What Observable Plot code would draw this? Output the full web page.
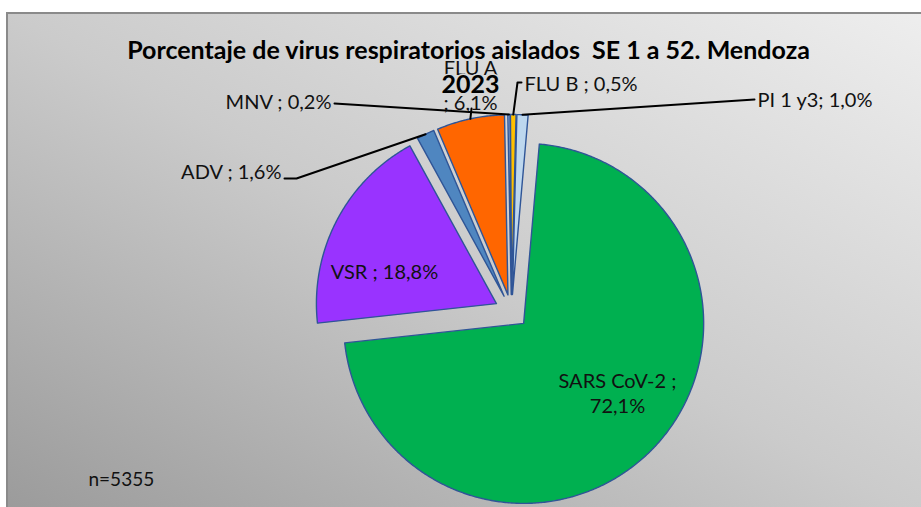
<!DOCTYPE html>
<html><head><meta charset="utf-8">
<script src="https://cdn.jsdelivr.net/npm/d3@7"></script>
<script src="https://cdn.jsdelivr.net/npm/@observablehq/plot@0.6"></script>
<style>body{margin:0;background:#fff;overflow:hidden}</style>
</head><body><div id="chart"></div>
<script>
// ---- data ----
const categories = ["SARS CoV-2", "VSR", "ADV", "FLU A", "MNV", "FLU B", "PI 1 y3"];
const percents = [72.1, 18.8, 1.6, 6.1, 0.2, 0.5, 1.0];
const percentLabels = ["72,1%", "18,8%", "1,6%", "6,1%", "0,2%", "0,5%", "1,0%"];
const labelTexts = ["SARS CoV-2 ;\n72,1%", "VSR ; 18,8%", "ADV ; 1,6%", "; 6,1%", "MNV ; 0,2%", "FLU B ; 0,5%", "PI 1 y3; 1,0%"];
const sampleSize = "n=5355";
const titleText = "Porcentaje de virus respiratorios aislados\u00a0 SE 1 a 52. Mendoza";
const yearText = "2023";

// ---- styles / layout ----
const sliceColors = ["#00b050", "#9933ff", "#4f86c0", "#ff6600", "#9dbbe3", "#ffc000", "#bdd7ee"];
const W = 921, H = 507;
const pieLayout = {cx: 511, cy: 311, r: 180, explode: 17, startDeg: 5};
// label anchor positions (x, y), text anchor, and label-side leader vertices
const labelLayout = [
  {x: 617, y: 392, anchor: "middle", leader: null},
  {x: 384, y: 270, anchor: "middle", leader: null},
  {x: 281, y: 170, anchor: "end", leader: [[284, 178], [296, 178]]},
  {x: 470, y: 101, anchor: "middle", leader: [[471, 108]]},
  {x: 331, y: 100, anchor: "end", leader: [[334, 103]]},
  {x: 524, y: 82, anchor: "start", leader: [[521, 82], [517, 82]]},
  {x: 757, y: 98, anchor: "start", leader: [[754, 99]]}
];
const FONT = "Lato, 'Open Sans', sans-serif";

// ---- geometry via d3.pie ----
const data = categories.map((name, i) => ({name, value: percents[i], color: sliceColors[i], i}));
const a0 = pieLayout.startDeg * Math.PI / 180;
const arcs = d3.pie().sort(null).value(d => d.value).startAngle(a0).endAngle(a0 + 2 * Math.PI)(data);
const {cx, cy, r, explode} = pieLayout;
const slices = arcs.map(a => {
  const mid = (a.startAngle + a.endAngle) / 2;
  const ox = cx + explode * Math.sin(mid), oy = cy - explode * Math.cos(mid);
  const pts = [{x: ox, y: oy}];
  const n = Math.max(2, Math.ceil((a.endAngle - a.startAngle) / (0.5 * Math.PI / 180)));
  for (let k = 0; k <= n; k++) {
    const t = a.startAngle + (a.endAngle - a.startAngle) * k / n;
    pts.push({x: ox + r * Math.sin(t), y: oy - r * Math.cos(t)});
  }
  return {...a.data, pts, outer: {x: ox + r * Math.sin(mid), y: oy - r * Math.cos(mid)}};
});

const leaders = [];
slices.forEach((s, i) => {
  const L = labelLayout[i].leader;
  if (!L) return;
  L.forEach(([x, y]) => leaders.push({name: s.name, x, y}));
  leaders.push({name: s.name, x: s.outer.x, y: s.outer.y});
});
const labels = slices.map((s, i) => ({text: labelTexts[i], ...labelLayout[i]}));

function background() {
  const g = d3.create("svg:g");
  const lg = g.append("defs").append("linearGradient").attr("id", "bgGrad")
    .attr("x1", 0).attr("y1", 1).attr("x2", 1).attr("y2", 0);
  lg.append("stop").attr("offset", "0%").attr("stop-color", "#9a9a9a");
  lg.append("stop").attr("offset", "50%").attr("stop-color", "#cbcbcb");
  lg.append("stop").attr("offset", "100%").attr("stop-color", "#eeeeee");
  g.append("rect").attr("x", 7).attr("y", 13).attr("width", W).attr("height", H)
    .attr("fill", "url(#bgGrad)").attr("stroke", "#8a8a8a").attr("stroke-width", 2);
  return g.node();
}

const labelMark = anchor => Plot.text(labels.filter(d => d.anchor === anchor), {
  x: "x", y: "y", text: "text", textAnchor: anchor, fontSize: 20, fill: "#111", lineHeight: 1.25, fontFamily: FONT
});

const chart = Plot.plot({
  width: W, height: H, margin: 0,
  x: {domain: [0, W], range: [0, W], axis: null},
  y: {domain: [0, H], range: [0, H], axis: null},
  style: {background: "white", fontFamily: FONT},
  marks: [
    background,
    ...slices.map(s => Plot.line(s.pts, {x: "x", y: "y", fill: s.color, stroke: "#2f5597", strokeWidth: 1.4, curve: "linear-closed"})),
    Plot.line(leaders, {x: "x", y: "y", z: "name", stroke: "#000", strokeWidth: 2}),
    labelMark("middle"), labelMark("start"), labelMark("end"),
    Plot.text([categories[3]], {x: () => 470, y: () => 68, text: d => d, fontSize: 20, fill: "#111", fontFamily: FONT}),
    Plot.text([yearText], {x: () => 470, y: () => 84, text: d => d, fontSize: 25, fontWeight: "bold", fill: "#000", fontFamily: FONT, stroke: "#d6d6d6", strokeWidth: 3}),
    Plot.text([titleText], {x: () => 468, y: () => 50, text: d => d, fontSize: 25, fontWeight: "bold", fill: "#000", fontFamily: FONT}),
    Plot.text([sampleSize], {x: () => 88, y: () => 479, text: d => d, textAnchor: "start", fontSize: 19, fill: "#111", fontFamily: FONT})
  ]
});
document.getElementById("chart").append(chart);
</script>
</body></html>
